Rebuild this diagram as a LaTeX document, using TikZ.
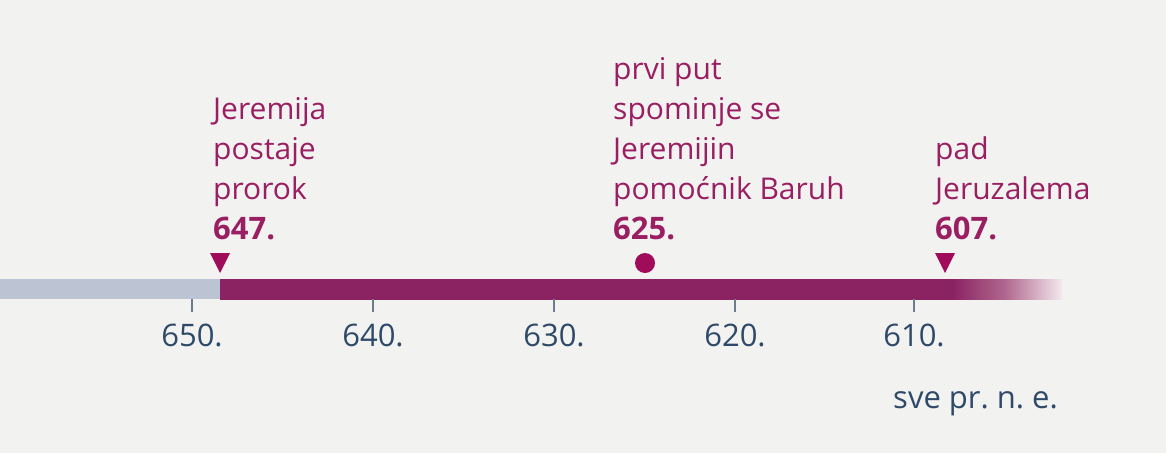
\documentclass[tikz,border=0pt]{standalone}
\usepackage{fontspec}
\setmainfont{Open Sans}
\frenchspacing
\definecolor{bg}{HTML}{F2F2F0}
\definecolor{barpurple}{HTML}{8B2362}
\definecolor{barmid}{HTML}{B0678F}
\definecolor{barfade}{HTML}{F3E9EE}
\definecolor{bargrey}{HTML}{BCC4D4}
\definecolor{txtpurple}{HTML}{9A1F62}
\definecolor{markpurple}{HTML}{A00C5A}
\definecolor{txtblue}{HTML}{2F4A68}
\definecolor{tickgrey}{HTML}{6D7B8F}
\pgfdeclarehorizontalshading{barfadeshade}{100bp}{%
  color(0bp)=(barpurple); color(68.5bp)=(barpurple);
  color(71.6bp)=(barmid); color(75bp)=(barfade); color(100bp)=(barfade)}
\begin{document}
\begin{tikzpicture}[x=1pt,y=-1pt,
  evtext/.style={anchor=south west,inner sep=0pt,align=left,text=txtpurple,
    font=\fontsize{30}{40}\selectfont},
  yearlbl/.style={anchor=base,inner sep=0pt,text=txtblue,font=\fontsize{31}{36}\selectfont},
  tickmark/.style={draw=tickgrey,line width=2pt},
  trimark/.style={fill=markpurple,draw=none},
]
\fill[bg] (0,0) rectangle (1166,453);
\useasboundingbox (0,0) rectangle (1166,453);
% bar
\fill[bargrey] (0,279) rectangle (220,299);
\shade[shading=barfadeshade] (220,279) rectangle (1062,299);
% ticks
\foreach \x/\l in {192/650,373/640,554/630,735/620,914/610}{
  \coordinate (t\l) at (\x,299);
  \draw[tickmark] (t\l) -- ++(0,13);
  \node[yearlbl] (lbl\l) at (\x,346) {\l.};
}
% markers
\coordinate (m647) at (220,273);
\coordinate (m607) at (945,273);
\fill[trimark] (m647) -- ++(-10,-20) -- ++(20,0) -- cycle;
\fill[trimark] (m607) -- ++(-10,-20) -- ++(20,0) -- cycle;
\fill[markpurple] (645,263) circle (10);
% event texts
\node[evtext] (e647) at (213,240) {Jeremija\\postaje\\prorok\\{\fontsize{31}{40}\selectfont\textbf{647.}}};
\node[evtext] (e625) at (613,240) {prvi put\\spominje se\\Jeremijin\\pomoćnik Baruh\\{\fontsize{31}{40}\selectfont\textbf{625.}}};
\node[evtext] (e607) at (935,240) {pad\\Jeruzalema\\{\fontsize{31}{40}\selectfont\textbf{607.}}};
% era note
\node[anchor=base west,inner sep=0pt,text=txtblue,font=\fontsize{31}{36}\selectfont] (era) at (893,408) {sve pr. n. e.};
\end{tikzpicture}
\end{document}
